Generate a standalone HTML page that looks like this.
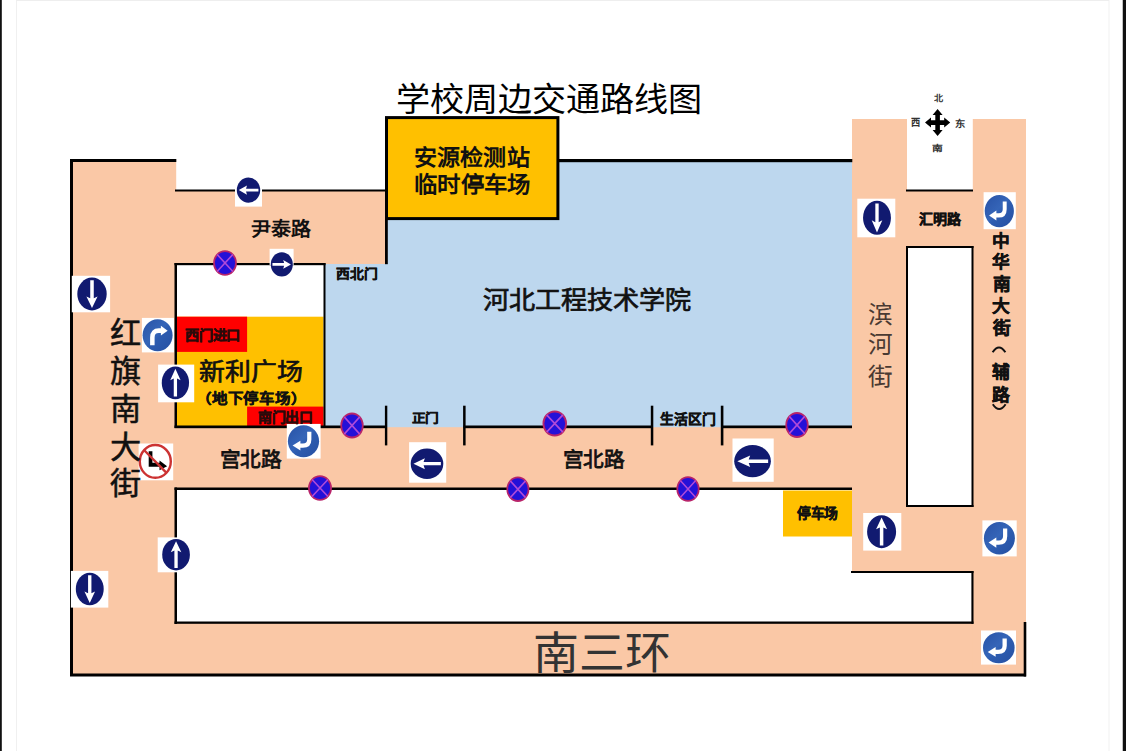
<!DOCTYPE html>
<html lang="zh-CN"><head><meta charset="utf-8"><title>学校周边交通路线图</title>
<style>
html,body{margin:0;padding:0;background:#fff;}
body{width:1126px;height:751px;position:relative;overflow:hidden;font-family:"Liberation Sans",sans-serif;}
svg{position:absolute;left:0;top:0;}
.t{position:absolute;white-space:nowrap;transform-origin:0 0;}
</style></head><body>
<svg width="1126" height="751" viewBox="0 0 1126 751">
<defs><linearGradient id="bg" x1="0" y1="0" x2="1" y2="1"><stop offset="0" stop-color="#2852a6"/><stop offset="0.45" stop-color="#3565b8"/><stop offset="0.55" stop-color="#2d5cb0"/><stop offset="1" stop-color="#2650a2"/></linearGradient></defs>
<rect x="0" y="0" width="1.8" height="751" fill="#111"/>
<rect x="1123" y="0" width="3" height="751" fill="#111"/>
<rect x="1122.4" y="0" width="0.6" height="751" fill="#999"/>
<rect x="16" y="0" width="1" height="751" fill="#f0f0f0"/>
<rect x="1108.5" y="0" width="1.0" height="751" fill="#f2f2f2"/>
<rect x="16" y="0" width="1093" height="1" fill="#eeeeee"/>
<rect x="70" y="159" width="106.2" height="517" fill="#FAC8A6"/>
<rect x="175" y="190" width="213" height="75" fill="#FAC8A6"/>
<rect x="175" y="426" width="677" height="64" fill="#FAC8A6"/>
<rect x="70" y="622" width="956" height="54" fill="#FAC8A6"/>
<rect x="852" y="119" width="55" height="454" fill="#FAC8A6"/>
<rect x="972.8" y="119" width="53.2" height="557" fill="#FAC8A6"/>
<rect x="906" y="190" width="67" height="57" fill="#FAC8A6"/>
<rect x="906" y="506" width="67" height="67" fill="#FAC8A6"/>
<rect x="386" y="160" width="466" height="267.2" fill="#BDD7EE"/>
<rect x="325" y="264" width="62" height="163.2" fill="#BDD7EE"/>
<rect x="177" y="316.7" width="146.5" height="109.3" fill="#FFC000"/>
<rect x="176.8" y="316.7" width="70.3" height="35.2" fill="#FF0000"/>
<rect x="247.1" y="406.6" width="76.4" height="19.4" fill="#FF0000"/>
<rect x="783" y="490.5" width="69" height="46.0" fill="#FFC000"/>
<rect x="70" y="159" width="3" height="517" fill="#000"/>
<rect x="70" y="159" width="106.3" height="3" fill="#000"/>
<rect x="175" y="189.5" width="211" height="2.0" fill="#000"/>
<rect x="70" y="673.5" width="956" height="3.0" fill="#000"/>
<rect x="1023.7" y="622" width="2.6" height="54.5" fill="#000"/>
<rect x="174.5" y="263" width="151.0" height="2.2" fill="#000"/>
<rect x="174.5" y="263" width="2.5" height="165" fill="#000"/>
<rect x="323.5" y="263" width="2.0" height="165" fill="#000"/>
<rect x="174.5" y="425.5" width="211.5" height="2.7" fill="#000"/>
<rect x="463.5" y="425.5" width="188.5" height="2.7" fill="#000"/>
<rect x="721.5" y="425.5" width="130.5" height="2.7" fill="#000"/>
<rect x="384.9" y="405.7" width="2.4" height="39.7" fill="#000"/>
<rect x="463.1" y="405.7" width="2.5" height="39.7" fill="#000"/>
<rect x="650.8" y="405.7" width="2.5" height="39.7" fill="#000"/>
<rect x="720.8" y="405.7" width="2.6" height="39.7" fill="#000"/>
<rect x="559" y="159" width="293.3" height="3.2" fill="#000"/>
<rect x="385" y="218" width="2.8" height="46.2" fill="#000"/>
<rect x="174.5" y="487.5" width="677.5" height="2.5" fill="#000"/>
<rect x="174.5" y="487.5" width="2.5" height="136.5" fill="#000"/>
<rect x="174.5" y="621.5" width="799.0" height="2.3" fill="#000"/>
<rect x="971.4" y="571" width="2.1" height="52.8" fill="#000"/>
<rect x="851" y="571" width="122.5" height="2" fill="#000"/>
<rect x="906" y="246" width="2" height="261" fill="#000"/>
<rect x="971.5" y="246" width="2.0" height="261" fill="#000"/>
<rect x="906" y="246" width="67.5" height="2" fill="#000"/>
<rect x="906" y="505" width="67.5" height="2" fill="#000"/>
<rect x="906" y="189.5" width="67" height="2.0" fill="#000"/>
<rect x="386.5" y="117.6" width="171.4" height="101" fill="#FFC000" stroke="#000" stroke-width="3"/>
<rect x="235" y="177" width="27" height="29.6" fill="#fff"/>
<g transform="translate(248.5,190.1) scale(11.7,12.6)"><ellipse cx="0" cy="0" rx="1" ry="1" fill="#111A70"/><path d="M0.85,-0.11L-0.21,-0.11L-0.13,-0.36L-0.83,0L-0.13,0.36L-0.21,0.11L0.85,0.11Z" fill="#fff" transform="rotate(0)"/></g>
<rect x="269.6" y="248.8" width="24.0" height="16.2" fill="#fff"/>
<g transform="translate(281.8,264.4) scale(11,12.2)"><ellipse cx="0" cy="0" rx="1" ry="1" fill="#111A70"/><path d="M0.85,-0.11L-0.21,-0.11L-0.13,-0.36L-0.83,0L-0.13,0.36L-0.21,0.11L0.85,0.11Z" fill="#fff" transform="rotate(180)"/></g>
<rect x="71.8" y="275.8" width="38.3" height="36.5" fill="#fff"/>
<g transform="translate(92,294) scale(14.7,16.4)"><ellipse cx="0" cy="0" rx="1" ry="1" fill="#111A70"/><path d="M-0.12,-0.84L0.12,-0.84L0.12,0.26L0.38,0.15L0,0.86L-0.38,0.15L-0.12,0.26Z" fill="#fff" transform="rotate(0)"/></g>
<rect x="158.1" y="364.6" width="36.1" height="37.7" fill="#fff"/>
<g transform="translate(175.4,382.8) scale(13.65,16.4)"><ellipse cx="0" cy="0" rx="1" ry="1" fill="#111A70"/><path d="M-0.12,-0.84L0.12,-0.84L0.12,0.26L0.38,0.15L0,0.86L-0.38,0.15L-0.12,0.26Z" fill="#fff" transform="rotate(180)"/></g>
<rect x="157.7" y="537.4" width="34.3" height="34.9" fill="#fff"/>
<g transform="translate(176.05,554.7) scale(13.85,15.7)"><ellipse cx="0" cy="0" rx="1" ry="1" fill="#111A70"/><path d="M-0.12,-0.84L0.12,-0.84L0.12,0.26L0.38,0.15L0,0.86L-0.38,0.15L-0.12,0.26Z" fill="#fff" transform="rotate(180)"/></g>
<rect x="70.9" y="570.9" width="37.4" height="36.7" fill="#fff"/>
<g transform="translate(89.75,589) scale(13.95,16.25)"><ellipse cx="0" cy="0" rx="1" ry="1" fill="#111A70"/><path d="M-0.12,-0.84L0.12,-0.84L0.12,0.26L0.38,0.15L0,0.86L-0.38,0.15L-0.12,0.26Z" fill="#fff" transform="rotate(0)"/></g>
<rect x="409.1" y="442.2" width="37.1" height="40.5" fill="#fff"/>
<g transform="translate(427,463.7) scale(16.3,15.2)"><ellipse cx="0" cy="0" rx="1" ry="1" fill="#111A70"/><path d="M0.85,-0.11L-0.21,-0.11L-0.13,-0.36L-0.83,0L-0.13,0.36L-0.21,0.11L0.85,0.11Z" fill="#fff" transform="rotate(0)"/></g>
<rect x="732.5" y="438.5" width="41.2" height="43.3" fill="#fff"/>
<g transform="translate(752.55,461.2) scale(18.35,16.1)"><ellipse cx="0" cy="0" rx="1" ry="1" fill="#111A70"/><path d="M0.85,-0.11L-0.21,-0.11L-0.13,-0.36L-0.83,0L-0.13,0.36L-0.21,0.11L0.85,0.11Z" fill="#fff" transform="rotate(0)"/></g>
<rect x="857.3" y="198.7" width="38.0" height="38.6" fill="#fff"/>
<g transform="translate(877,217.8) scale(13.95,17)"><ellipse cx="0" cy="0" rx="1" ry="1" fill="#111A70"/><path d="M-0.12,-0.84L0.12,-0.84L0.12,0.26L0.38,0.15L0,0.86L-0.38,0.15L-0.12,0.26Z" fill="#fff" transform="rotate(0)"/></g>
<rect x="863.2" y="513" width="38.1" height="37.6" fill="#fff"/>
<g transform="translate(881.6,531.7) scale(14.5,16.5)"><ellipse cx="0" cy="0" rx="1" ry="1" fill="#111A70"/><path d="M-0.12,-0.84L0.12,-0.84L0.12,0.26L0.38,0.15L0,0.86L-0.38,0.15L-0.12,0.26Z" fill="#fff" transform="rotate(180)"/></g>
<rect x="141.9" y="317.9" width="32.1" height="34.5" fill="#fff"/>
<g transform="translate(157.6,335.3) scale(15,16)"><ellipse cx="0" cy="0" rx="1" ry="1" fill="url(#bg)"/><path d="M-0.35,0.62L-0.35,0.14Q-0.35,-0.29 0.08,-0.29L0.26,-0.29" fill="none" stroke="#fff" stroke-width="0.3"/><path d="M0.22,-0.6L0.67,-0.29L0.22,0.02Z" fill="#fff"/></g>
<rect x="286.8" y="423.9" width="33.8" height="34.7" fill="#fff"/>
<g transform="translate(303.5,441.3) scale(15.6,16)"><ellipse cx="0" cy="0" rx="1" ry="1" fill="url(#bg)"/><path d="M0.37,-0.6L0.37,-0.12Q0.37,0.27 -0.04,0.27L-0.24,0.27" fill="none" stroke="#fff" stroke-width="0.27"/><path d="M-0.2,-0.04L-0.7,0.27L-0.2,0.58Z" fill="#fff"/></g>
<rect x="983.6" y="192.2" width="32.2" height="37.0" fill="#fff"/>
<g transform="translate(999.3,211.1) scale(14.6,16.1)"><ellipse cx="0" cy="0" rx="1" ry="1" fill="url(#bg)"/><path d="M0.37,-0.6L0.37,-0.12Q0.37,0.27 -0.04,0.27L-0.24,0.27" fill="none" stroke="#fff" stroke-width="0.27"/><path d="M-0.2,-0.04L-0.7,0.27L-0.2,0.58Z" fill="#fff"/></g>
<rect x="982.4" y="520.4" width="34.3" height="36.0" fill="#fff"/>
<g transform="translate(999.4,538.2) scale(15.5,16.25)"><ellipse cx="0" cy="0" rx="1" ry="1" fill="url(#bg)"/><path d="M0.37,-0.6L0.37,-0.12Q0.37,0.27 -0.04,0.27L-0.24,0.27" fill="none" stroke="#fff" stroke-width="0.27"/><path d="M-0.2,-0.04L-0.7,0.27L-0.2,0.58Z" fill="#fff"/></g>
<rect x="981" y="630.5" width="35" height="34.1" fill="#fff"/>
<g transform="translate(998.8,647.7) scale(15.8,15.5)"><ellipse cx="0" cy="0" rx="1" ry="1" fill="url(#bg)"/><path d="M0.37,-0.6L0.37,-0.12Q0.37,0.27 -0.04,0.27L-0.24,0.27" fill="none" stroke="#fff" stroke-width="0.27"/><path d="M-0.2,-0.04L-0.7,0.27L-0.2,0.58Z" fill="#fff"/></g>
<rect x="138.6" y="443.5" width="34.6" height="36.8" fill="#fff"/>
<ellipse cx="155.3" cy="461.4" rx="15.5" ry="16.4" fill="#fff" stroke="#cc3333" stroke-width="2.4"/>
<path d="M148.7,451.2L152.4,451.2L152.4,462.8L159.5,462.8L159.5,460.5L167.1,466.2L159.5,470.2L159.5,466.8L148.7,466.8Z" fill="#000"/>
<line x1="144" y1="450" x2="166.5" y2="472.8" stroke="#cc3333" stroke-width="2.4"/>
<g transform="translate(225,263) scale(11.6,12.5)"><ellipse cx="0" cy="0" rx="0.95" ry="0.95" fill="#2410d8" stroke="#b8246a" stroke-width="0.15"/><path d="M-0.68,-0.68L0.68,0.68M0.68,-0.68L-0.68,0.68" stroke="#b04ad8" stroke-width="0.14"/></g>
<g transform="translate(352,425.5) scale(11.4,12.6)"><ellipse cx="0" cy="0" rx="0.95" ry="0.95" fill="#2410d8" stroke="#b8246a" stroke-width="0.15"/><path d="M-0.68,-0.68L0.68,0.68M0.68,-0.68L-0.68,0.68" stroke="#b04ad8" stroke-width="0.14"/></g>
<g transform="translate(554.75,423.5) scale(11.95,12.6)"><ellipse cx="0" cy="0" rx="0.95" ry="0.95" fill="#2410d8" stroke="#b8246a" stroke-width="0.15"/><path d="M-0.68,-0.68L0.68,0.68M0.68,-0.68L-0.68,0.68" stroke="#b04ad8" stroke-width="0.14"/></g>
<g transform="translate(797,425) scale(11.4,12.6)"><ellipse cx="0" cy="0" rx="0.95" ry="0.95" fill="#2410d8" stroke="#b8246a" stroke-width="0.15"/><path d="M-0.68,-0.68L0.68,0.68M0.68,-0.68L-0.68,0.68" stroke="#b04ad8" stroke-width="0.14"/></g>
<g transform="translate(320,488) scale(11.65,12.5)"><ellipse cx="0" cy="0" rx="0.95" ry="0.95" fill="#2410d8" stroke="#b8246a" stroke-width="0.15"/><path d="M-0.68,-0.68L0.68,0.68M0.68,-0.68L-0.68,0.68" stroke="#b04ad8" stroke-width="0.14"/></g>
<g transform="translate(517.9,489.2) scale(11.2,12.4)"><ellipse cx="0" cy="0" rx="0.95" ry="0.95" fill="#2410d8" stroke="#b8246a" stroke-width="0.15"/><path d="M-0.68,-0.68L0.68,0.68M0.68,-0.68L-0.68,0.68" stroke="#b04ad8" stroke-width="0.14"/></g>
<g transform="translate(688,489) scale(11.3,12.5)"><ellipse cx="0" cy="0" rx="0.95" ry="0.95" fill="#2410d8" stroke="#b8246a" stroke-width="0.15"/><path d="M-0.68,-0.68L0.68,0.68M0.68,-0.68L-0.68,0.68" stroke="#b04ad8" stroke-width="0.14"/></g>
<polygon points="937.6,109.1 942.6,115.1 939.9,115.1 939.9,120.3 944.2,120.3 944.2,117.6 950.2,122.6 944.2,127.6 944.2,124.9 939.9,124.9 939.9,130.1 942.6,130.1 937.6,136.1 932.6,130.1 935.3,130.1 935.3,124.9 931.0,124.9 931.0,127.6 925.0,122.6 931.0,117.6 931.0,120.3 935.3,120.3 935.3,115.1 932.6,115.1" fill="#000"/>
<path d="M992.6,352.2Q999,342.6 1005.4,352.2" fill="none" stroke="#111" stroke-width="2"/>
<path d="M992.8,404.2Q999.2,413.8 1005.6,404.2" fill="none" stroke="#111" stroke-width="2"/>
</svg>
<div class="t" style="left:396.36px;top:82.70px;font-size:33.19px;line-height:33.19px;font-weight:400;color:#000;transform:scaleX(1.0297);">学校周边交通路线图</div>
<div class="t" style="left:414.24px;top:146.64px;font-size:21.86px;line-height:21.86px;font-weight:700;color:#111;transform:scaleX(1.0525);">安源检测站</div>
<div class="t" style="left:413.67px;top:174.24px;font-size:22.06px;line-height:22.06px;font-weight:700;color:#111;transform:scaleX(1.0624);">临时停车场</div>
<div class="t" style="left:251.19px;top:220.20px;font-size:19.79px;line-height:19.79px;font-weight:700;color:#111;transform:scaleX(1.0106);">尹泰路</div>
<div class="t" style="left:335.53px;top:268.15px;font-size:12.68px;line-height:12.68px;font-weight:700;color:#111;transform:scaleX(1.0879);-webkit-text-stroke:0.38px #111;">西北门</div>
<div class="t" style="left:483.42px;top:288.30px;font-size:25.16px;line-height:25.16px;font-weight:400;color:#111;transform:scaleX(1.0392);-webkit-text-stroke:0.7px #111;">河北工程技术学院</div>
<div class="t" style="left:184.83px;top:328.87px;font-size:13.40px;line-height:13.40px;font-weight:700;color:#2a0a0a;transform:scaleX(1.0622);-webkit-text-stroke:0.40px #2a0a0a;">西门进口</div>
<div class="t" style="left:198.56px;top:360.30px;font-size:23.83px;line-height:23.83px;font-weight:400;color:#111;transform:scaleX(1.0848);-webkit-text-stroke:0.7px #111;">新利广场</div>
<div class="t" style="left:196.19px;top:391.87px;font-size:13.74px;line-height:13.74px;font-weight:700;color:#111;transform:scaleX(1.1267);-webkit-text-stroke:0.41px #111;">（地下停车场）</div>
<div class="t" style="left:258.44px;top:410.97px;font-size:13.30px;line-height:13.30px;font-weight:700;color:#2a0a0a;transform:scaleX(1.0510);-webkit-text-stroke:0.40px #2a0a0a;">南门出口</div>
<div class="t" style="left:412.44px;top:413.25px;font-size:12.37px;line-height:12.37px;font-weight:700;color:#111;transform:scaleX(1.1061);-webkit-text-stroke:0.37px #111;">正门</div>
<div class="t" style="left:660.17px;top:412.58px;font-size:13.92px;line-height:13.92px;font-weight:700;color:#111;transform:scaleX(0.9927);-webkit-text-stroke:0.42px #111;">生活区门</div>
<div class="t" style="left:219.83px;top:450.40px;font-size:20.43px;line-height:20.43px;font-weight:400;color:#111;transform:scaleX(1.0133);-webkit-text-stroke:0.8px #111;">宫北路</div>
<div class="t" style="left:562.63px;top:450.40px;font-size:20.43px;line-height:20.43px;font-weight:400;color:#111;transform:scaleX(1.0133);-webkit-text-stroke:0.8px #111;">宫北路</div>
<div class="t" style="left:797.12px;top:506.28px;font-size:14.12px;line-height:14.12px;font-weight:700;color:#111;transform:scaleX(0.9783);-webkit-text-stroke:0.42px #111;">停车场</div>
<div class="t" style="left:918.52px;top:213.24px;font-size:13.81px;line-height:13.81px;font-weight:700;color:#111;transform:scaleX(1.0158);-webkit-text-stroke:0.41px #111;">汇明路</div>
<div class="t" style="left:532.51px;top:631.75px;font-size:44.73px;line-height:44.73px;font-weight:400;color:#333;transform:scaleX(1.0263);">南三环</div>
<div class="t" style="left:933.51px;top:94.12px;font-size:8.49px;line-height:8.49px;font-weight:700;color:#333;transform:scaleX(1.0771);-webkit-text-stroke:0px;">北</div>
<div class="t" style="left:911.31px;top:117.87px;font-size:10.45px;line-height:10.45px;font-weight:700;color:#333;transform:scaleX(0.8851);-webkit-text-stroke:0px;">西</div>
<div class="t" style="left:954.61px;top:119.69px;font-size:9.38px;line-height:9.38px;font-weight:700;color:#333;transform:scaleX(1.1099);-webkit-text-stroke:0px;">东</div>
<div class="t" style="left:931.82px;top:145.38px;font-size:8.23px;line-height:8.23px;font-weight:700;color:#333;transform:scaleX(1.3148);-webkit-text-stroke:0px;">南</div>
<div class="t" style="left:109.77px;top:319.00px;font-size:30.32px;line-height:30.32px;font-weight:400;color:#111;transform:scaleX(1.0292);-webkit-text-stroke:0.5px #111;">红</div>
<div class="t" style="left:109.75px;top:357.00px;font-size:30.32px;line-height:30.32px;font-weight:400;color:#111;transform:scaleX(1.0292);-webkit-text-stroke:0.5px #111;">旗</div>
<div class="t" style="left:110.06px;top:395.01px;font-size:30.32px;line-height:30.32px;font-weight:400;color:#111;transform:scaleX(1.0292);-webkit-text-stroke:0.5px #111;">南</div>
<div class="t" style="left:110.42px;top:432.69px;font-size:30.32px;line-height:30.32px;font-weight:400;color:#111;transform:scaleX(1.0292);-webkit-text-stroke:0.5px #111;">大</div>
<div class="t" style="left:110.40px;top:469.28px;font-size:30.32px;line-height:30.32px;font-weight:400;color:#111;transform:scaleX(1.0292);-webkit-text-stroke:0.5px #111;">街</div>
<div class="t" style="left:868.21px;top:303.20px;font-size:24.41px;line-height:24.41px;font-weight:400;color:#4a3a32;transform:scaleX(1.0096);">滨</div>
<div class="t" style="left:868.47px;top:333.42px;font-size:24.41px;line-height:24.41px;font-weight:400;color:#4a3a32;transform:scaleX(1.0096);">河</div>
<div class="t" style="left:867.72px;top:365.45px;font-size:24.41px;line-height:24.41px;font-weight:400;color:#4a3a32;transform:scaleX(1.0096);">街</div>
<div class="t" style="left:991.98px;top:232.57px;font-size:17.50px;line-height:17.50px;font-weight:700;color:#111;transform:scaleX(1.0119);-webkit-text-stroke:0.45px #111;">中</div>
<div class="t" style="left:992.24px;top:253.99px;font-size:17.50px;line-height:17.50px;font-weight:700;color:#111;transform:scaleX(1.0119);-webkit-text-stroke:0.45px #111;">华</div>
<div class="t" style="left:992.86px;top:275.99px;font-size:17.50px;line-height:17.50px;font-weight:700;color:#111;transform:scaleX(1.0119);-webkit-text-stroke:0.45px #111;">南</div>
<div class="t" style="left:992.25px;top:298.07px;font-size:17.50px;line-height:17.50px;font-weight:700;color:#111;transform:scaleX(1.0119);-webkit-text-stroke:0.45px #111;">大</div>
<div class="t" style="left:992.60px;top:319.59px;font-size:17.50px;line-height:17.50px;font-weight:700;color:#111;transform:scaleX(1.0119);-webkit-text-stroke:0.45px #111;">街</div>
<div class="t" style="left:992.24px;top:364.37px;font-size:17.50px;line-height:17.50px;font-weight:700;color:#111;transform:scaleX(1.0119);-webkit-text-stroke:0.45px #111;">辅</div>
<div class="t" style="left:992.25px;top:387.27px;font-size:17.50px;line-height:17.50px;font-weight:700;color:#111;transform:scaleX(1.0119);-webkit-text-stroke:0.45px #111;">路</div>
</body></html>
